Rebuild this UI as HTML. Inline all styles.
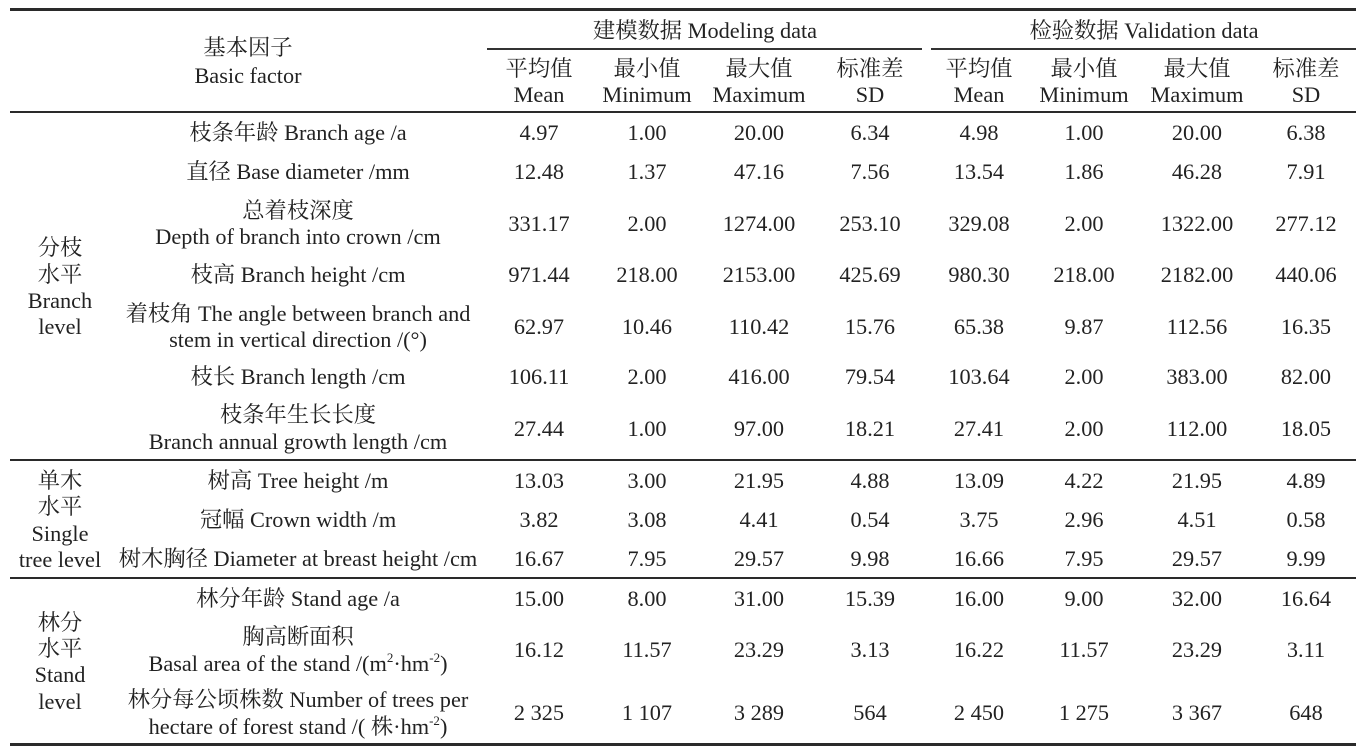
<!DOCTYPE html>
<html>
<head>
<meta charset="utf-8">
<style>
  html,body{margin:0;padding:0;background:#fff;}
  body{width:1356px;height:747px;position:relative;overflow:hidden;
       font-family:"Liberation Serif","Noto Serif CJK SC","Noto Sans CJK SC",serif;
       font-size:22.3px;color:#222;}
  .t{position:absolute;width:600px;margin-left:-300px;text-align:center;height:26px;line-height:26px;white-space:nowrap;}
  .l{position:absolute;background:#2a2a2a;}
  .sp{font-size:13px;position:relative;top:-9px;}
</style>
</head>
<body>
<!-- rules -->
<div class="l" style="left:10px;width:1346px;top:8px;height:3px;"></div>
<div class="l" style="left:487px;width:435px;top:48px;height:1.5px;background:#333;"></div>
<div class="l" style="left:931px;width:425px;top:48px;height:1.5px;background:#333;"></div>
<div class="l" style="left:10px;width:1346px;top:111px;height:2px;"></div>
<div class="l" style="left:10px;width:1346px;top:459px;height:2px;"></div>
<div class="l" style="left:10px;width:1346px;top:577px;height:2px;"></div>
<div class="l" style="left:10px;width:1346px;top:743px;height:3px;"></div>

<!-- header -->
<div class="t" style="left:248px;top:35px;">基本因子</div>
<div class="t" style="left:248px;top:63px;">Basic factor</div>
<div class="t" style="left:705px;top:18px;">建模数据 Modeling data</div>
<div class="t" style="left:1144px;top:18px;">检验数据 Validation data</div>

<div class="t" style="left:539px;top:56px;">平均值</div>
<div class="t" style="left:647px;top:56px;">最小值</div>
<div class="t" style="left:759px;top:56px;">最大值</div>
<div class="t" style="left:870px;top:56px;">标准差</div>
<div class="t" style="left:979px;top:56px;">平均值</div>
<div class="t" style="left:1084px;top:56px;">最小值</div>
<div class="t" style="left:1197px;top:56px;">最大值</div>
<div class="t" style="left:1306px;top:56px;">标准差</div>

<div class="t" style="left:539px;top:82px;">Mean</div>
<div class="t" style="left:647px;top:82px;">Minimum</div>
<div class="t" style="left:759px;top:82px;">Maximum</div>
<div class="t" style="left:870px;top:82px;">SD</div>
<div class="t" style="left:979px;top:82px;">Mean</div>
<div class="t" style="left:1084px;top:82px;">Minimum</div>
<div class="t" style="left:1197px;top:82px;">Maximum</div>
<div class="t" style="left:1306px;top:82px;">SD</div>

<!-- group labels -->
<div class="t" style="left:60px;top:235px;">分枝</div>
<div class="t" style="left:60px;top:262px;">水平</div>
<div class="t" style="left:60px;top:288px;">Branch</div>
<div class="t" style="left:60px;top:314px;">level</div>

<div class="t" style="left:60px;top:468px;">单木</div>
<div class="t" style="left:60px;top:494px;">水平</div>
<div class="t" style="left:60px;top:521px;">Single</div>
<div class="t" style="left:60px;top:547px;">tree level</div>

<div class="t" style="left:60px;top:610px;">林分</div>
<div class="t" style="left:60px;top:636px;">水平</div>
<div class="t" style="left:60px;top:662px;">Stand</div>
<div class="t" style="left:60px;top:689px;">level</div>

<!-- factor names -->
<div class="t" style="left:298px;top:120px;">枝条年龄 Branch age /a</div>
<div class="t" style="left:298px;top:159px;">直径 Base diameter /mm</div>
<div class="t" style="left:298px;top:198px;">总着枝深度</div>
<div class="t" style="left:298px;top:224px;">Depth of branch into crown /cm</div>
<div class="t" style="left:298px;top:262px;">枝高 Branch height /cm</div>
<div class="t" style="left:298px;top:301px;">着枝角 The angle between branch and</div>
<div class="t" style="left:298px;top:327px;">stem in vertical direction /(°)</div>
<div class="t" style="left:298px;top:364px;">枝长 Branch length /cm</div>
<div class="t" style="left:298px;top:402px;">枝条年生长长度</div>
<div class="t" style="left:298px;top:429px;">Branch annual growth length /cm</div>
<div class="t" style="left:298px;top:468px;">树高 Tree height /m</div>
<div class="t" style="left:298px;top:507px;">冠幅 Crown width /m</div>
<div class="t" style="left:298px;top:546px;">树木胸径 Diameter at breast height /cm</div>
<div class="t" style="left:298px;top:586px;">林分年龄 Stand age /a</div>
<div class="t" style="left:298px;top:624px;">胸高断面积</div>
<div class="t" style="left:298px;top:651px;">Basal area of the stand /(m<span class="sp">2</span>·hm<span class="sp">-2</span>)</div>
<div class="t" style="left:298px;top:687px;">林分每公顷株数 Number of trees per</div>
<div class="t" style="left:298px;top:714px;">hectare of forest stand /( 株·hm<span class="sp">-2</span>)</div>

<!-- row 1 -->
<div class="t" style="left:539px;top:120px;">4.97</div>
<div class="t" style="left:647px;top:120px;">1.00</div>
<div class="t" style="left:759px;top:120px;">20.00</div>
<div class="t" style="left:870px;top:120px;">6.34</div>
<div class="t" style="left:979px;top:120px;">4.98</div>
<div class="t" style="left:1084px;top:120px;">1.00</div>
<div class="t" style="left:1197px;top:120px;">20.00</div>
<div class="t" style="left:1306px;top:120px;">6.38</div>
<!-- row 2 -->
<div class="t" style="left:539px;top:159px;">12.48</div>
<div class="t" style="left:647px;top:159px;">1.37</div>
<div class="t" style="left:759px;top:159px;">47.16</div>
<div class="t" style="left:870px;top:159px;">7.56</div>
<div class="t" style="left:979px;top:159px;">13.54</div>
<div class="t" style="left:1084px;top:159px;">1.86</div>
<div class="t" style="left:1197px;top:159px;">46.28</div>
<div class="t" style="left:1306px;top:159px;">7.91</div>
<!-- row 3 -->
<div class="t" style="left:539px;top:211px;">331.17</div>
<div class="t" style="left:647px;top:211px;">2.00</div>
<div class="t" style="left:759px;top:211px;">1274.00</div>
<div class="t" style="left:870px;top:211px;">253.10</div>
<div class="t" style="left:979px;top:211px;">329.08</div>
<div class="t" style="left:1084px;top:211px;">2.00</div>
<div class="t" style="left:1197px;top:211px;">1322.00</div>
<div class="t" style="left:1306px;top:211px;">277.12</div>
<!-- row 4 -->
<div class="t" style="left:539px;top:262px;">971.44</div>
<div class="t" style="left:647px;top:262px;">218.00</div>
<div class="t" style="left:759px;top:262px;">2153.00</div>
<div class="t" style="left:870px;top:262px;">425.69</div>
<div class="t" style="left:979px;top:262px;">980.30</div>
<div class="t" style="left:1084px;top:262px;">218.00</div>
<div class="t" style="left:1197px;top:262px;">2182.00</div>
<div class="t" style="left:1306px;top:262px;">440.06</div>
<!-- row 5 -->
<div class="t" style="left:539px;top:314px;">62.97</div>
<div class="t" style="left:647px;top:314px;">10.46</div>
<div class="t" style="left:759px;top:314px;">110.42</div>
<div class="t" style="left:870px;top:314px;">15.76</div>
<div class="t" style="left:979px;top:314px;">65.38</div>
<div class="t" style="left:1084px;top:314px;">9.87</div>
<div class="t" style="left:1197px;top:314px;">112.56</div>
<div class="t" style="left:1306px;top:314px;">16.35</div>
<!-- row 6 -->
<div class="t" style="left:539px;top:364px;">106.11</div>
<div class="t" style="left:647px;top:364px;">2.00</div>
<div class="t" style="left:759px;top:364px;">416.00</div>
<div class="t" style="left:870px;top:364px;">79.54</div>
<div class="t" style="left:979px;top:364px;">103.64</div>
<div class="t" style="left:1084px;top:364px;">2.00</div>
<div class="t" style="left:1197px;top:364px;">383.00</div>
<div class="t" style="left:1306px;top:364px;">82.00</div>
<!-- row 7 -->
<div class="t" style="left:539px;top:416px;">27.44</div>
<div class="t" style="left:647px;top:416px;">1.00</div>
<div class="t" style="left:759px;top:416px;">97.00</div>
<div class="t" style="left:870px;top:416px;">18.21</div>
<div class="t" style="left:979px;top:416px;">27.41</div>
<div class="t" style="left:1084px;top:416px;">2.00</div>
<div class="t" style="left:1197px;top:416px;">112.00</div>
<div class="t" style="left:1306px;top:416px;">18.05</div>
<!-- row 8 -->
<div class="t" style="left:539px;top:468px;">13.03</div>
<div class="t" style="left:647px;top:468px;">3.00</div>
<div class="t" style="left:759px;top:468px;">21.95</div>
<div class="t" style="left:870px;top:468px;">4.88</div>
<div class="t" style="left:979px;top:468px;">13.09</div>
<div class="t" style="left:1084px;top:468px;">4.22</div>
<div class="t" style="left:1197px;top:468px;">21.95</div>
<div class="t" style="left:1306px;top:468px;">4.89</div>
<!-- row 9 -->
<div class="t" style="left:539px;top:507px;">3.82</div>
<div class="t" style="left:647px;top:507px;">3.08</div>
<div class="t" style="left:759px;top:507px;">4.41</div>
<div class="t" style="left:870px;top:507px;">0.54</div>
<div class="t" style="left:979px;top:507px;">3.75</div>
<div class="t" style="left:1084px;top:507px;">2.96</div>
<div class="t" style="left:1197px;top:507px;">4.51</div>
<div class="t" style="left:1306px;top:507px;">0.58</div>
<!-- row 10 -->
<div class="t" style="left:539px;top:546px;">16.67</div>
<div class="t" style="left:647px;top:546px;">7.95</div>
<div class="t" style="left:759px;top:546px;">29.57</div>
<div class="t" style="left:870px;top:546px;">9.98</div>
<div class="t" style="left:979px;top:546px;">16.66</div>
<div class="t" style="left:1084px;top:546px;">7.95</div>
<div class="t" style="left:1197px;top:546px;">29.57</div>
<div class="t" style="left:1306px;top:546px;">9.99</div>
<!-- row 11 -->
<div class="t" style="left:539px;top:586px;">15.00</div>
<div class="t" style="left:647px;top:586px;">8.00</div>
<div class="t" style="left:759px;top:586px;">31.00</div>
<div class="t" style="left:870px;top:586px;">15.39</div>
<div class="t" style="left:979px;top:586px;">16.00</div>
<div class="t" style="left:1084px;top:586px;">9.00</div>
<div class="t" style="left:1197px;top:586px;">32.00</div>
<div class="t" style="left:1306px;top:586px;">16.64</div>
<!-- row 12 -->
<div class="t" style="left:539px;top:637px;">16.12</div>
<div class="t" style="left:647px;top:637px;">11.57</div>
<div class="t" style="left:759px;top:637px;">23.29</div>
<div class="t" style="left:870px;top:637px;">3.13</div>
<div class="t" style="left:979px;top:637px;">16.22</div>
<div class="t" style="left:1084px;top:637px;">11.57</div>
<div class="t" style="left:1197px;top:637px;">23.29</div>
<div class="t" style="left:1306px;top:637px;">3.11</div>
<!-- row 13 -->
<div class="t" style="left:539px;top:700px;">2&nbsp;325</div>
<div class="t" style="left:647px;top:700px;">1&nbsp;107</div>
<div class="t" style="left:759px;top:700px;">3&nbsp;289</div>
<div class="t" style="left:870px;top:700px;">564</div>
<div class="t" style="left:979px;top:700px;">2&nbsp;450</div>
<div class="t" style="left:1084px;top:700px;">1&nbsp;275</div>
<div class="t" style="left:1197px;top:700px;">3&nbsp;367</div>
<div class="t" style="left:1306px;top:700px;">648</div>
</body>
</html>
